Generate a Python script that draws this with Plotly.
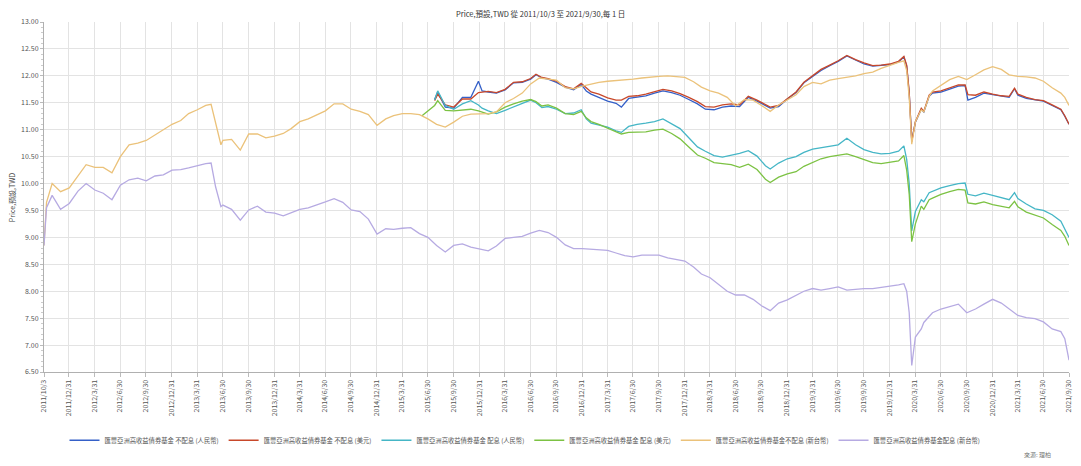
import plotly.graph_objects as go

# ---------------- data ----------------
twd_dates = [
    "2011-10-03", "2011-10-12", "2011-11-01", "2011-12-01", "2012-01-01", "2012-02-01", "2012-03-01",
    "2012-04-01", "2012-05-01", "2012-06-01", "2012-07-01", "2012-08-01", "2012-09-01", "2012-10-01",
    "2012-11-01", "2012-12-01", "2013-01-01", "2013-02-01", "2013-03-01", "2013-04-01", "2013-05-01",
    "2013-05-20", "2013-06-05", "2013-06-24", "2013-07-01", "2013-08-01", "2013-09-01", "2013-10-01",
    "2013-11-01", "2013-12-01", "2014-01-01", "2014-02-01", "2014-03-01", "2014-04-01", "2014-05-01",
    "2014-06-01", "2014-07-01", "2014-08-01", "2014-09-01", "2014-10-01", "2014-11-01", "2014-12-01",
    "2015-01-01", "2015-02-01", "2015-03-01", "2015-04-01", "2015-05-01", "2015-06-01", "2015-07-01",
    "2015-08-01", "2015-09-01", "2015-10-01", "2015-11-01", "2015-12-01", "2016-01-01", "2016-02-01",
    "2016-03-01", "2016-04-01", "2016-05-01", "2016-06-01", "2016-07-01", "2016-08-01", "2016-09-01",
    "2016-10-01", "2016-11-01", "2016-12-01", "2017-01-01", "2017-02-01", "2017-03-01", "2017-04-01",
    "2017-05-01", "2017-06-01", "2017-07-01", "2017-08-01", "2017-09-01", "2017-10-01", "2017-11-01",
    "2017-12-01", "2018-01-01", "2018-02-01", "2018-03-01", "2018-04-01", "2018-05-01", "2018-06-01",
    "2018-07-01", "2018-08-01", "2018-09-01", "2018-10-01", "2018-11-01", "2018-12-01", "2019-01-01",
    "2019-02-01", "2019-03-01", "2019-04-01", "2019-05-01", "2019-06-01", "2019-07-01", "2019-08-01",
    "2019-09-01", "2019-10-01", "2019-11-01", "2019-12-01", "2020-01-01", "2020-02-01", "2020-02-20",
    "2020-03-01", "2020-03-10", "2020-03-19", "2020-04-01", "2020-04-22", "2020-05-01", "2020-05-20",
    "2020-06-01", "2020-07-01", "2020-08-01", "2020-09-01", "2020-10-01", "2020-11-01", "2020-12-01",
    "2021-01-01", "2021-02-01", "2021-03-01", "2021-04-01", "2021-05-01", "2021-06-01", "2021-07-01",
    "2021-08-01", "2021-09-01", "2021-09-15", "2021-09-30",
]
twd_acc = [  # 新台幣 不配息
    8.85, 9.65, 10.00, 9.85, 9.92, 10.15, 10.35,
    10.30, 10.30, 10.20, 10.50, 10.72, 10.75, 10.80,
    10.90, 11.00, 11.10, 11.17, 11.30, 11.37, 11.45,
    11.47, 11.10, 10.72, 10.80, 10.82, 10.62, 10.92,
    10.92, 10.85, 10.88, 10.93, 11.02, 11.15, 11.20,
    11.28, 11.35, 11.48, 11.48, 11.38, 11.34, 11.28,
    11.08, 11.20, 11.26, 11.30, 11.30, 11.28, 11.20,
    11.10, 11.05, 11.14, 11.25, 11.29, 11.29, 11.30,
    11.33, 11.50, 11.58, 11.68, 11.85, 11.96, 11.94,
    11.92, 11.78, 11.76, 11.81, 11.85, 11.88, 11.90,
    11.91, 11.93, 11.94, 11.96, 11.98, 11.99, 12.00,
    11.99, 11.97, 11.89, 11.79, 11.72, 11.68, 11.60,
    11.44, 11.56, 11.55, 11.45, 11.34, 11.46, 11.55,
    11.65, 11.80, 11.88, 11.85, 11.92, 11.95, 11.97,
    12.00, 12.04, 12.07, 12.14, 12.20, 12.25, 12.28,
    12.10, 11.60, 10.73, 11.15, 11.37, 11.33, 11.62,
    11.72, 11.82, 11.93, 11.99, 11.93, 12.02, 12.11,
    12.17, 12.12, 12.02, 11.99, 11.98, 11.96, 11.90,
    11.78, 11.68, 11.60, 11.45,
]
twd_dist = [  # 新台幣 配息
    8.85, 9.55, 9.78, 9.52, 9.63, 9.86, 10.00,
    9.88, 9.82, 9.70, 9.97, 10.07, 10.10, 10.05,
    10.14, 10.16, 10.25, 10.26, 10.29, 10.33, 10.37,
    10.38, 9.94, 9.57, 9.60, 9.52, 9.32, 9.51,
    9.58, 9.47, 9.45, 9.40, 9.45, 9.52, 9.55,
    9.60, 9.66, 9.72, 9.65, 9.51, 9.48, 9.34,
    9.06, 9.16, 9.15, 9.17, 9.18, 9.07, 9.00,
    8.85, 8.73, 8.85, 8.88, 8.82, 8.78, 8.75,
    8.84, 8.98, 9.00, 9.02, 9.08, 9.13, 9.09,
    9.00, 8.86, 8.79, 8.79, 8.78, 8.76, 8.76,
    8.71, 8.66, 8.64, 8.67, 8.67, 8.67, 8.62,
    8.59, 8.56, 8.45, 8.32, 8.25, 8.13, 8.00,
    7.93, 7.93, 7.85, 7.73, 7.64, 7.78, 7.84,
    7.92, 8.00, 8.05, 8.02, 8.05, 8.08, 8.02,
    8.04, 8.05, 8.05, 8.07, 8.10, 8.12, 8.14,
    8.00, 7.60, 6.62, 7.15, 7.30, 7.42, 7.54,
    7.60, 7.67, 7.71, 7.76, 7.60, 7.67, 7.76,
    7.85, 7.78, 7.67, 7.55, 7.51, 7.49, 7.43,
    7.30, 7.25, 7.12, 6.72,
]

fx_dates = [
    "2015-06-10", "2015-07-01", "2015-07-25", "2015-08-05", "2015-09-01", "2015-10-01", "2015-11-01",
    "2015-12-01", "2015-12-28", "2016-01-10", "2016-02-01", "2016-03-01", "2016-04-01", "2016-05-01",
    "2016-06-01", "2016-07-01", "2016-07-20", "2016-08-10", "2016-09-01", "2016-10-01", "2016-11-01",
    "2016-12-01", "2016-12-28", "2017-01-15", "2017-02-01", "2017-03-01", "2017-04-01", "2017-05-01",
    "2017-05-20", "2017-06-15", "2017-07-15", "2017-08-15", "2017-09-15", "2017-10-15", "2017-11-15",
    "2017-12-15", "2018-01-15", "2018-02-15", "2018-03-15", "2018-04-15", "2018-05-15", "2018-06-15",
    "2018-07-15", "2018-08-15", "2018-09-15", "2018-10-15", "2018-11-01", "2018-12-01", "2019-01-01",
    "2019-02-01", "2019-03-01", "2019-04-01", "2019-05-01", "2019-06-01", "2019-07-01", "2019-08-01",
    "2019-09-01", "2019-10-01", "2019-11-01", "2019-12-01", "2020-01-01", "2020-02-01", "2020-02-20",
    "2020-03-01", "2020-03-10", "2020-03-19", "2020-04-01", "2020-04-22", "2020-05-01", "2020-05-20",
    "2020-06-01", "2020-07-01", "2020-08-01", "2020-09-01", "2020-09-25", "2020-10-05", "2020-11-01",
    "2020-12-01", "2021-01-01", "2021-02-01", "2021-03-01", "2021-03-20", "2021-04-01", "2021-05-01",
    "2021-06-01", "2021-07-01", "2021-08-01", "2021-09-01", "2021-09-15", "2021-09-30",
]
usd_acc = [  # 美元 不配息
    None, None, 11.54, 11.66, 11.46, 11.42, 11.57,
    11.57, 11.69, 11.70, 11.71, 11.69, 11.75, 11.88,
    11.89, 11.95, 12.03, 11.97, 11.95, 11.90, 11.80,
    11.76, 11.86, 11.78, 11.70, 11.66, 11.59, 11.55,
    11.55, 11.62, 11.63, 11.66, 11.71, 11.75, 11.72,
    11.67, 11.60, 11.52, 11.43, 11.42, 11.46, 11.48,
    11.46, 11.62, 11.55, 11.46, 11.42, 11.45, 11.58,
    11.70, 11.88, 12.00, 12.12, 12.20, 12.28, 12.38,
    12.30, 12.24, 12.19, 12.20, 12.22, 12.27, 12.36,
    12.20, 11.70, 10.78, 11.15, 11.40, 11.34, 11.64,
    11.70, 11.72, 11.78, 11.83, 11.83, 11.65, 11.64,
    11.70, 11.66, 11.63, 11.62, 11.77, 11.66, 11.60,
    11.56, 11.54, 11.46, 11.38, 11.26, 11.10,
]
cny_acc = [  # 人民幣 不配息
    None, None, 11.56, 11.70, 11.42, 11.40, 11.60,
    11.60, 11.90, 11.72, 11.70, 11.68, 11.74, 11.87,
    11.88, 11.94, 12.02, 11.96, 11.94, 11.88, 11.79,
    11.74, 11.84, 11.72, 11.66, 11.60, 11.53, 11.49,
    11.42, 11.58, 11.60, 11.63, 11.68, 11.72, 11.69,
    11.64, 11.56, 11.48, 11.38, 11.37, 11.42, 11.44,
    11.43, 11.60, 11.53, 11.44, 11.40, 11.43, 11.57,
    11.69, 11.87, 11.99, 12.10, 12.19, 12.27, 12.37,
    12.29, 12.22, 12.18, 12.19, 12.21, 12.26, 12.35,
    12.18, 11.68, 10.80, 11.14, 11.38, 11.33, 11.62,
    11.68, 11.70, 11.76, 11.81, 11.82, 11.55, 11.60,
    11.68, 11.65, 11.62, 11.60, 11.76, 11.64, 11.58,
    11.55, 11.53, 11.45, 11.37, 11.25, 11.10,
]
cny_dist = [  # 人民幣 配息
    None, None, 11.55, 11.72, 11.45, 11.38, 11.48,
    11.54, 11.46, 11.40, 11.35, 11.30, 11.36, 11.42,
    11.48, 11.55, 11.50, 11.41, 11.43, 11.38, 11.30,
    11.31, 11.37, 11.20, 11.12, 11.08, 11.05, 10.98,
    10.95, 11.06, 11.10, 11.12, 11.15, 11.20, 11.11,
    11.02, 10.85, 10.68, 10.60, 10.52, 10.49, 10.52,
    10.56, 10.61, 10.51, 10.33, 10.27, 10.38, 10.46,
    10.50, 10.58, 10.64, 10.67, 10.70, 10.72, 10.84,
    10.72, 10.63, 10.58, 10.55, 10.56, 10.60, 10.70,
    10.45, 10.00, 9.12, 9.48, 9.70, 9.66, 9.83,
    9.86, 9.92, 9.96, 10.00, 10.01, 9.80, 9.77,
    9.82, 9.78, 9.74, 9.70, 9.83, 9.72, 9.62,
    9.53, 9.50, 9.42, 9.30, 9.15, 9.00,
]
usd_dist = [  # 美元 配息
    11.26, 11.35, 11.45, 11.54, 11.36, 11.35, 11.36,
    11.38, 11.35, 11.33, 11.29, 11.33, 11.42, 11.48,
    11.53, 11.56, 11.52, 11.44, 11.46, 11.40, 11.30,
    11.28, 11.34, 11.22, 11.15, 11.10, 11.03, 10.95,
    10.92, 10.95, 10.95, 10.96, 10.99, 11.01, 10.93,
    10.83, 10.68, 10.53, 10.47, 10.39, 10.37, 10.35,
    10.30, 10.36, 10.26, 10.08, 10.02, 10.12, 10.18,
    10.22, 10.32, 10.39, 10.46, 10.50, 10.52, 10.55,
    10.50, 10.44, 10.39, 10.37, 10.39, 10.42, 10.52,
    10.25, 9.80, 8.92, 9.25, 9.58, 9.52, 9.70,
    9.73, 9.80, 9.85, 9.89, 9.88, 9.64, 9.62,
    9.66, 9.61, 9.58, 9.55, 9.67, 9.57, 9.47,
    9.41, 9.36, 9.24, 9.13, 9.02, 8.85,
]

series_names = [
    "匯豐亞洲高收益債券基金 不配息 (人民幣)",
    "匯豐亞洲高收益債券基金 不配息 (美元)",
    "匯豐亞洲高收益債券基金 配息 (人民幣)",
    "匯豐亞洲高收益債券基金 配息 (美元)",
    "匯豐亞洲高收益債券基金不配息 (新台幣)",
    "匯豐亞洲高收益債券基金配息 (新台幣)",
]
series_colors = ["#3560c8", "#c8482a", "#45b6c6", "#7cc243", "#ebc27a", "#b6aae2"]

tick_dates = [
    "2011-10-03", "2011-12-31", "2012-03-31", "2012-06-30", "2012-09-30", "2012-12-31",
    "2013-03-31", "2013-06-30", "2013-09-30", "2013-12-31", "2014-03-31", "2014-06-30",
    "2014-09-30", "2014-12-31", "2015-03-31", "2015-06-30", "2015-09-30", "2015-12-31",
    "2016-03-31", "2016-06-30", "2016-09-30", "2016-12-31", "2017-03-31", "2017-06-30",
    "2017-09-30", "2017-12-31", "2018-03-31", "2018-06-30", "2018-09-30", "2018-12-31",
    "2019-03-31", "2019-06-30", "2019-09-30", "2019-12-31", "2020-03-31", "2020-06-30",
    "2020-09-30", "2020-12-31", "2021-03-31", "2021-06-30", "2021-09-30",
]
tick_labels = [
    "2011/10/3", "2011/12/31", "2012/3/31", "2012/6/30", "2012/9/30", "2012/12/31",
    "2013/3/31", "2013/6/30", "2013/9/30", "2013/12/31", "2014/3/31", "2014/6/30",
    "2014/9/30", "2014/12/31", "2015/3/31", "2015/6/30", "2015/9/30", "2015/12/31",
    "2016/3/31", "2016/6/30", "2016/9/30", "2016/12/31", "2017/3/31", "2017/6/30",
    "2017/9/30", "2017/12/31", "2018/3/31", "2018/6/30", "2018/9/30", "2018/12/31",
    "2019/3/31", "2019/6/30", "2019/9/30", "2019/12/31", "2020/3/31", "2020/6/30",
    "2020/9/30", "2020/12/31", "2021/3/31", "2021/6/30", "2021/9/30",
]

title_text = "Price,預設,TWD 從 2011/10/3 至 2021/9/30,每 1 日"
y_title = "Price,預設,TWD"
source_text = "來源: 理柏"

# ---------------- figure ----------------
# The page body adds an 8px margin, so the figure is 16px smaller than the window.
FONT = "Noto Sans CJK TC, Noto Sans, sans-serif"
fig = go.Figure()

xs = [fx_dates, fx_dates, fx_dates, fx_dates, twd_dates, twd_dates]
ys = [cny_acc, usd_acc, cny_dist, usd_dist, twd_acc, twd_dist]
for name, color, x, y in zip(series_names, series_colors, xs, ys):
    fig.add_trace(go.Scatter(
        x=x, y=y, name=name, mode="lines",
        line=dict(color=color, width=1.3),
        connectgaps=False,
    ))

fig.update_layout(
    width=1065, height=450,
    margin=dict(l=36, r=4, t=14, b=86, autoexpand=False),
    paper_bgcolor="white", plot_bgcolor="white",
    font=dict(family=FONT, size=7, color="#555555"),
    showlegend=True,
    legend=dict(orientation="h", x=0.02, xanchor="left", y=-0.195, yanchor="middle",
                font=dict(size=6.3, color="#555555"),
                itemwidth=30, tracegroupgap=0, bgcolor="rgba(0,0,0,0)"),
)

fig.update_xaxes(
    type="date",
    range=["2011-10-03", "2021-09-30"],
    tickmode="array", tickvals=tick_dates, ticktext=tick_labels,
    tickangle=-90, tickfont=dict(size=7, color="#555555"),
    ticklabeloverflow="allow",
    ticks="outside", ticklen=4, tickcolor="#bbbbbb",
    showgrid=True, gridcolor="#e3e3e3", gridwidth=1,
    showline=True, linecolor="#b0b0b0", linewidth=1,
    zeroline=False,
)
fig.update_yaxes(
    range=[6.5, 13.0], dtick=0.5, tick0=6.5, tickformat=".2f",
    tickfont=dict(size=7, color="#555555"),
    ticks="outside", ticklen=3, tickcolor="#bbbbbb",
    minor=dict(dtick=0.1, ticks="outside", ticklen=2, tickcolor="#cccccc", showgrid=False),
    showgrid=True, gridcolor="#e3e3e3", gridwidth=1,
    showline=True, linecolor="#b0b0b0", linewidth=1,
    zeroline=False,
)

# chart title (centred on the page, just inside the top edge)
fig.add_annotation(
    text=title_text, xref="paper", yref="paper", x=(532.5 - 36) / 1025, y=1.0 + 8.5 / 350,
    xanchor="center", yanchor="middle", showarrow=False,
    font=dict(size=7.5, color="#333333"),
)
# y-axis title, placed at the far left like the reference
fig.add_annotation(
    text=y_title, xref="paper", yref="paper", x=-0.031, y=0.5,
    xanchor="center", yanchor="middle", textangle=-90, showarrow=False,
    font=dict(size=7, color="#444444"),
)
fig.add_annotation(
    text=source_text, xref="paper", yref="paper", x=0.984, y=-0.235,
    xanchor="right", yanchor="middle", showarrow=False,
    font=dict(size=6, color="#777777"),
)

fig.write_html("out.html")
